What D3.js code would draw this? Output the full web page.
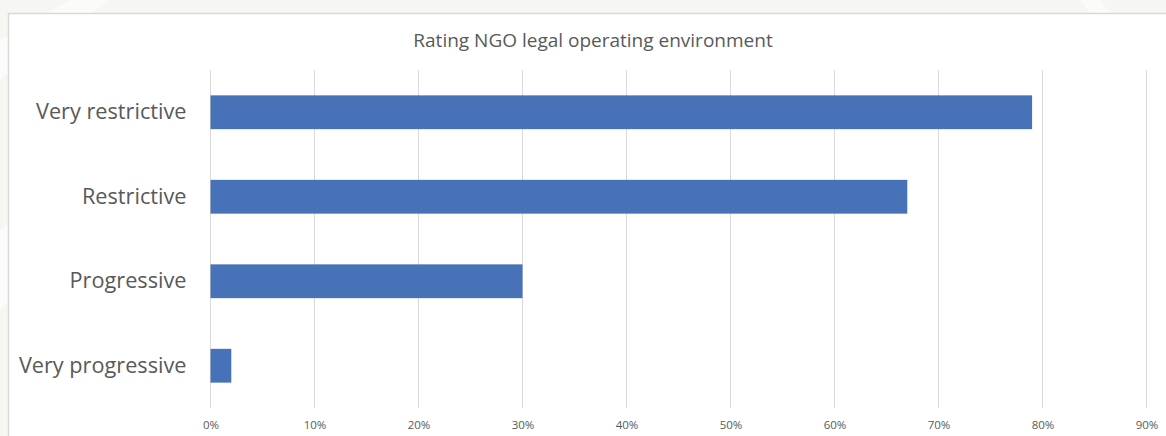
<!DOCTYPE html>
<html>
<head>
<meta charset="utf-8">
<script src="https://cdn.jsdelivr.net/npm/d3@7/dist/d3.min.js"></script>
<style>
  html, body { margin: 0; padding: 0; background: #f6f7f3; }
  svg { display: block; }
</style>
</head>
<body>
<svg id="chart" width="1166" height="436"></svg>
<script>
// Survey ratings of the NGO legal operating environment
const categories = ["Very restrictive", "Restrictive", "Progressive", "Very progressive"];
const shares = [0.79, 0.67, 0.30, 0.02];
const tickValues = [0, 0.1, 0.2, 0.3, 0.4, 0.5, 0.6, 0.7, 0.8, 0.9];
const chartTitle = "Rating NGO legal operating environment";

const W = 1166, H = 436;
const svg = d3.select("#chart");

// page backdrop with faint diagonal bands
svg.append("rect").attr("width", W).attr("height", H).attr("fill", "#f6f7f3");
svg.append("path").attr("d", "M0,40 L70,0 L110,0 L0,80 Z").attr("fill", "#fbfbfa");
svg.append("path").attr("d", "M0,230 L12,220 L12,300 L0,310 Z").attr("fill", "#fbfbfa");
svg.append("path").attr("d", "M1080,0 L1100,0 L1110,13 L1090,13 Z").attr("fill", "#fbfbfa");

// chart frame
svg.append("rect")
  .attr("x", 8.5).attr("y", 13.5)
  .attr("width", W + 20).attr("height", H + 20)
  .attr("fill", "#ffffff")
  .attr("stroke", "#d9d9d9").attr("stroke-width", 1.5);

const plot = { left: 210.5, right: 1146.5, top: 70, bottom: 408 };

const x = d3.scaleLinear().domain([0, 0.9]).range([plot.left, plot.right]);
const y = d3.scaleBand().domain(categories).range([plot.top, plot.bottom])
  .paddingInner(0.6).paddingOuter(0.3);

// vertical gridlines
svg.append("g").selectAll("line").data(tickValues).join("line")
  .attr("x1", d => x(d)).attr("x2", d => x(d))
  .attr("y1", plot.top).attr("y2", plot.bottom)
  .attr("stroke", "#d9d9d9").attr("stroke-width", 1);

// bars
svg.append("g").selectAll("rect").data(categories).join("rect")
  .attr("x", x(0))
  .attr("y", d => y(d))
  .attr("width", (d, i) => x(shares[i]) - x(0))
  .attr("height", y.bandwidth())
  .attr("fill", "#4872b8");

// x axis tick labels
const xAxis = d3.axisBottom(x).tickValues(tickValues).tickFormat(d3.format(".0%")).tickSize(0).tickPadding(0);
const gx = svg.append("g").attr("transform", `translate(0,${plot.bottom + 13})`).call(xAxis);
gx.select(".domain").remove();
gx.selectAll("text")
  .attr("font-family", "'Open Sans', sans-serif")
  .attr("font-size", 11.5)
  .attr("fill", "#595959");

// category labels
const yAxis = d3.axisLeft(y).tickSize(0).tickPadding(0);
const gy = svg.append("g").attr("transform", `translate(${plot.left - 24},0)`).call(yAxis);
gy.select(".domain").remove();
gy.selectAll("text")
  .attr("font-family", "'Open Sans', sans-serif")
  .attr("font-size", 21.7)
  .attr("fill", "#595959");

// title
svg.append("text")
  .attr("x", 593).attr("y", 47)
  .attr("text-anchor", "middle")
  .attr("font-family", "'Open Sans', sans-serif")
  .attr("font-size", 19)
  .attr("fill", "#595959")
  .text(chartTitle);
</script>
</body>
</html>
